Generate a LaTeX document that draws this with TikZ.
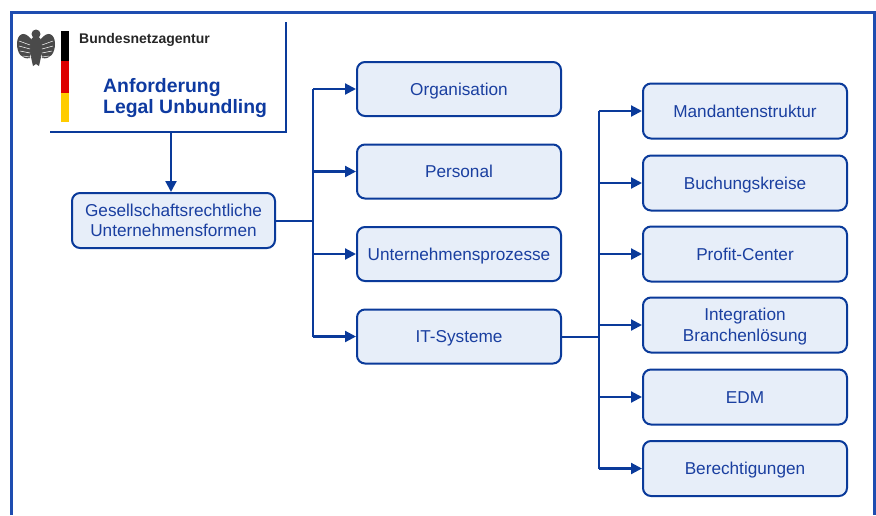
\documentclass[tikz,border=0pt]{standalone}
\usepackage{fontspec}
\setmainfont{Liberation Sans}
\usetikzlibrary{arrows.meta}
\definecolor{frameblue}{HTML}{1E4DB0}
\definecolor{boxline}{HTML}{0A3A9A}
\definecolor{boxfill}{HTML}{E7EEF9}
\definecolor{txtblue}{HTML}{1A3FA0}
\definecolor{titleblue}{HTML}{0E3AA0}
\definecolor{fgold}{HTML}{FFCC00}
\definecolor{fred}{HTML}{DD0000}
\definecolor{eaglegray}{HTML}{4A4A4A}
\begin{document}
\begin{tikzpicture}[x=1pt,y=-1pt,
  box/.style={draw=boxline, fill=boxfill, line width=2pt, rounded corners=8pt,
    minimum width=204pt, minimum height=54pt, inner sep=0pt, align=center,
    text=txtblue, font=\fontsize{17.2}{20.6}\selectfont},
  oneline/.style={text height=12.3pt, text depth=0pt},
  conn/.style={draw=boxline, line width=2.2pt},
  arr/.style={conn, -{Triangle[length=11pt,width=11pt]}}]
\useasboundingbox (0,0) rectangle (876,515);
% outer frame (open at bottom)
\draw[frameblue, line width=3pt] (11,515) -- (11,12) -- (874,12) -- (874,515);
% logo panel
\draw[boxline, line width=2pt] (286,22) -- (286,132) -- (50,132);
\coordinate (logoout) at (171,132);
% eagle (simplified)
\begin{scope}[eaglegray]
  \fill (36,34) circle (4.5);
  \fill (36,48) ellipse (7 and 12);
  \fill (31,39) .. controls (24,30) and (17,34) .. (17,44) .. controls (17,53) and (22,60) .. (30,58) -- cycle;
  \fill (41,39) .. controls (48,30) and (55,34) .. (55,44) .. controls (55,53) and (50,60) .. (42,58) -- cycle;
  \fill (31,57) -- (33,66) -- (36,64) -- (39,66) -- (41,57) -- cycle;
  \draw[white, line width=0.5pt] (19,41) -- (30,45) (19,46) -- (30,49) (20,51) -- (30,53) (23,56) -- (30,57)
        (53,41) -- (42,45) (53,46) -- (42,49) (52,51) -- (42,53) (49,56) -- (42,57);
\end{scope}
% flag
\fill[black] (61,31) rectangle (69,61);
\fill[fred] (61,61) rectangle (69,93);
\fill[fgold] (61,93) rectangle (69,122);
\node[anchor=base west, inner sep=0pt, text=black!85, font=\bfseries\fontsize{14}{14}\selectfont] (bnetza) at (79,43) {Bundesnetzagentur};
\node[anchor=base west, inner sep=0pt, text=titleblue, font=\bfseries\fontsize{19.4}{22}\selectfont] (title1) at (103,92) {Anforderung};
\node[anchor=base west, inner sep=0pt, text=titleblue, font=\bfseries\fontsize{19.4}{22}\selectfont] (title2) at (103,113.5) {Legal Unbundling};
% boxes
\node[box, minimum width=203pt, minimum height=55pt] (ges) at (173.5,220.5) {Gesellschaftsrechtliche\\Unternehmensformen};
\node[box, oneline] (org) at (459,89) {Organisation};
\node[box, oneline] (pers) at (459,171.5) {Personal};
\node[box, oneline] (proz) at (459,254) {Unternehmensprozesse};
\node[box, oneline] (its) at (459,336.5) {IT-Systeme};
\node[box, oneline, minimum height=55pt] (mand) at (745,111) {Mandantenstruktur};
\node[box, oneline, minimum height=55pt] (buch) at (745,183) {Buchungskreise};
\node[box, oneline, minimum height=55pt] (prof) at (745,254) {Profit-Center};
\node[box, text depth=0pt, minimum height=55pt] (integ) at (745,325) {Integration\\Branchenlösung};
\node[box, oneline, minimum height=55pt] (edm) at (745,397) {EDM};
\node[box, oneline, minimum height=55pt] (ber) at (745,468.5) {Berechtigungen};
% connectors
\coordinate (t1) at (313,221);
\coordinate (t2) at (599,337);
\draw[arr] (logoout) -- (ges.north -| logoout);
\draw[conn] (ges.east |- t1) -- (t1);
\draw[conn] (org.west -| t1) -- (its.west -| t1);
\foreach \n in {org,pers,proz,its} \draw[arr] (\n.west -| t1) -- (\n.west);
\draw[conn] (its.east |- t2) -- (t2);
\draw[conn] (mand.west -| t2) -- (ber.west -| t2);
\foreach \n in {mand,buch,prof,integ,edm,ber} \draw[arr] (\n.west -| t2) -- (\n.west);
\end{tikzpicture}
\end{document}
